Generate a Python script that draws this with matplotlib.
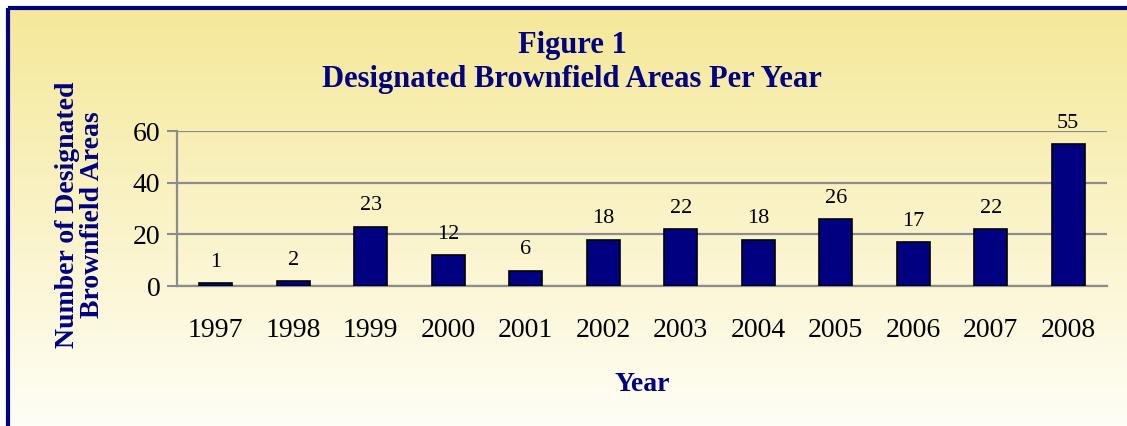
import numpy as np
import matplotlib.pyplot as plt

years = ['1997', '1998', '1999', '2000', '2001', '2002',
         '2003', '2004', '2005', '2006', '2007', '2008']
areas = [1, 2, 23, 12, 6, 18, 22, 18, 26, 17, 22, 55]
y_ticks = [0, 20, 40, 60]

navy = '#000080'
grid_gray = '#8c8c8c'
plt.rcParams['font.family'] = ['Liberation Serif', 'DejaVu Serif']

W, H = 1127, 426
fig = plt.figure(figsize=(W / 100, H / 100), dpi=100)
fig.patch.set_facecolor('white')

# background gradient panel with navy border on top and left
bg = fig.add_axes([0, 0, 1, 1], zorder=0)
bg.set_xlim(0, W)
bg.set_ylim(H, 0)
bg.axis('off')
top = np.array([245, 232, 152]) / 255
bottom = np.array([255, 254, 246]) / 255
t = np.linspace(0, 1, 256)[:, None]
grad = (top[None, :] * (1 - t) + bottom[None, :] * t)[:, None, :]
bg.imshow(grad, extent=[8, W, H, 8], aspect='auto', zorder=0)
bg.plot([8, W], [8, 8], color=navy, lw=3, solid_capstyle='butt', zorder=2)
bg.plot([8, 8], [8, H], color=navy, lw=3, solid_capstyle='butt', zorder=2)

ax = fig.add_axes([177 / W, 1 - 286 / H, (1107 - 177) / W, (286 - 131) / H], zorder=1)
ax.patch.set_alpha(0)

x = np.arange(len(years))
ax.bar(x, areas, width=0.42, color=navy, edgecolor='black', linewidth=1.2, zorder=3)
for xi, v in zip(x, areas):
    ax.annotate(str(v), (xi, v), xytext=(0, 8), textcoords='offset points',
                ha='center', va='bottom', fontsize=16)

ax.set_xlim(-0.5, len(years) - 0.5)
ax.set_ylim(0, 60)
ax.set_yticks(y_ticks)
ax.set_xticks(x)
ax.set_xticklabels(years)
ax.tick_params(axis='x', length=0, pad=23, labelsize=20)
ax.tick_params(axis='y', length=7, width=1.5, color=grid_gray, pad=5, labelsize=20)
ax.yaxis.grid(True, color=grid_gray, linewidth=1.6, zorder=1)
ax.set_axisbelow(True)
for s in ['top', 'right']:
    ax.spines[s].set_visible(False)
for s in ['left', 'bottom']:
    ax.spines[s].set_color(grid_gray)
    ax.spines[s].set_linewidth(1.6)

ax.set_xlabel('Year', fontsize=20, fontweight='bold', color=navy, labelpad=21)
fig.text(80 / W, 1 - 215 / H, 'Number of Designated\nBrownfield Areas', rotation=90,
         ha='center', va='center', fontsize=20, fontweight='bold', color=navy,
         linespacing=1.05)
fig.text(572 / W, 1 - 45 / H, 'Figure 1', ha='center', va='center',
         fontsize=22, fontweight='bold', color=navy)
fig.text(572 / W, 1 - 80 / H, 'Designated Brownfield Areas Per Year', ha='center',
         va='center', fontsize=22, fontweight='bold', color=navy)

fig.savefig('out.png', dpi=100)
plt.close(fig)
